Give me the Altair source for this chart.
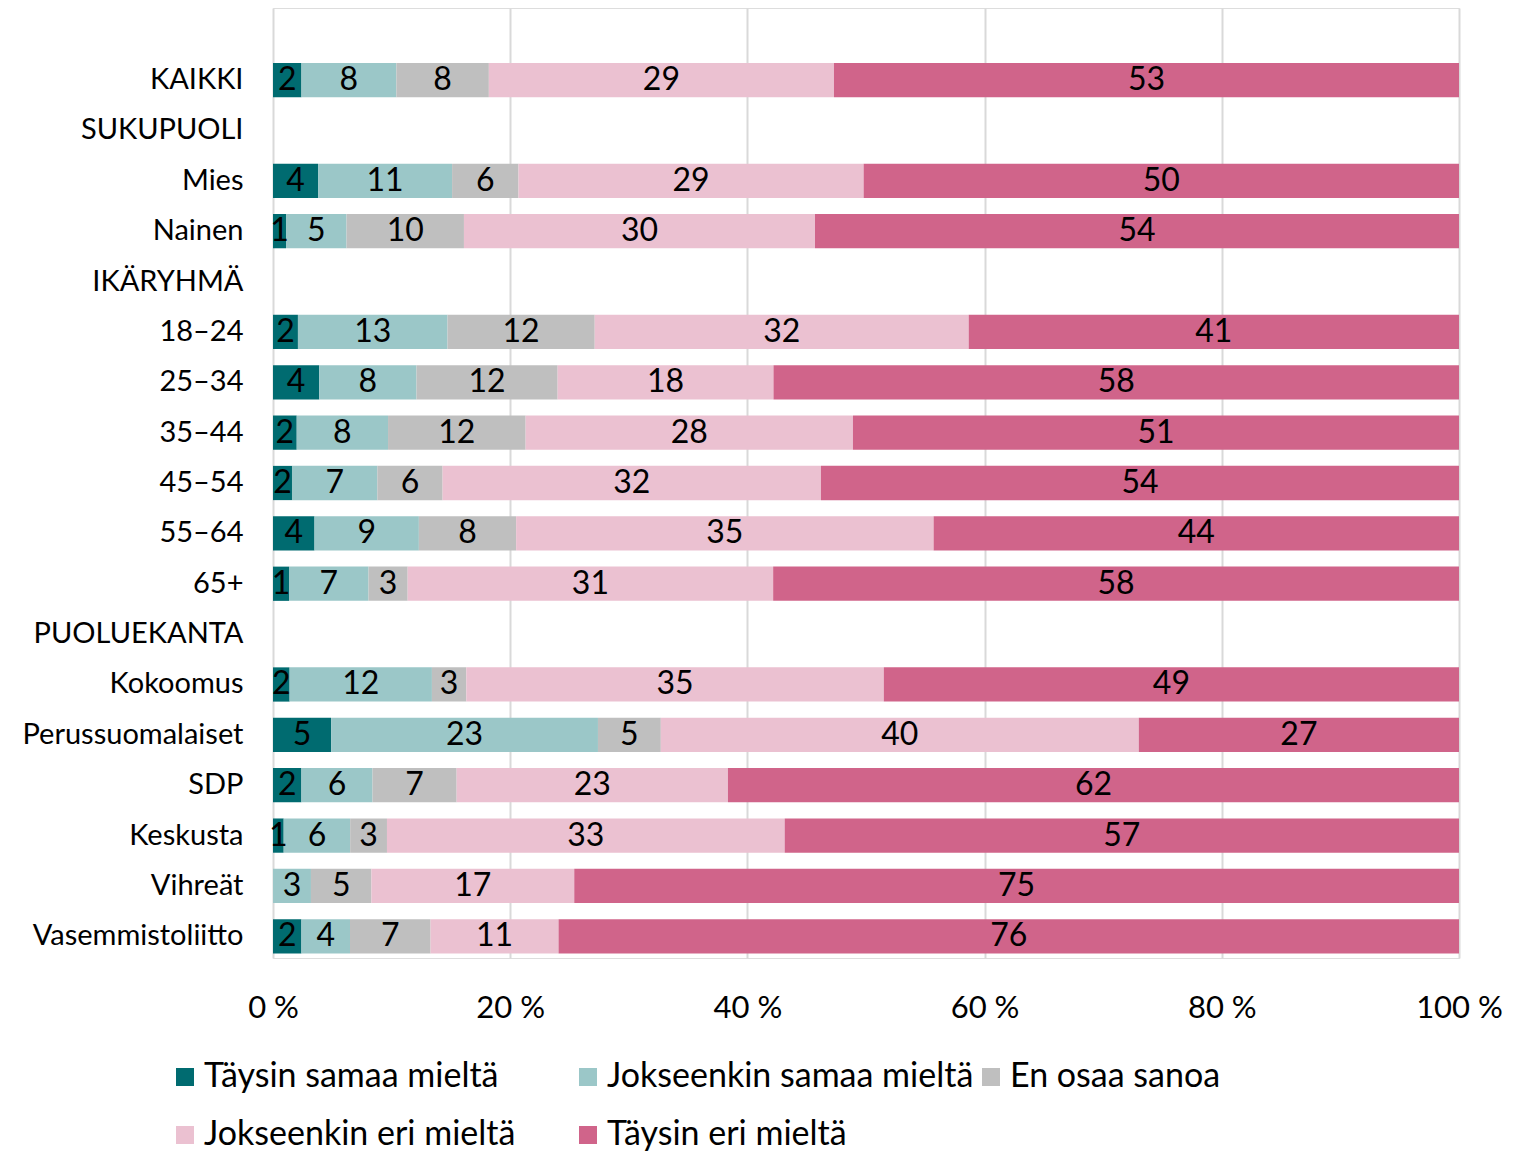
import altair as alt
import pandas as pd

rows = ["KAIKKI", "SUKUPUOLI", "Mies", "Nainen", "IKÄRYHMÄ", "18–24", "25–34", "35–44",
        "45–54", "55–64", "65+", "PUOLUEKANTA", "Kokoomus", "Perussuomalaiset", "SDP",
        "Keskusta", "Vihreät", "Vasemmistoliitto"]
data_rows = ["KAIKKI", "Mies", "Nainen", "18–24", "25–34", "35–44", "45–54", "55–64", "65+",
             "Kokoomus", "Perussuomalaiset", "SDP", "Keskusta", "Vihreät", "Vasemmistoliitto"]
categories = ["Täysin samaa mieltä", "Jokseenkin samaa mieltä", "En osaa sanoa",
              "Jokseenkin eri mieltä", "Täysin eri mieltä"]
colors = ["#006B70", "#9BC7C8", "#BFBFBF", "#EBC1D1", "#D0648A"]

# shares
taysin_samaa = [2.4, 3.8, 1.1, 2.1, 3.9, 2.0, 1.6, 3.5, 1.35, 1.4, 4.9, 2.4, 0.9, 0.0, 2.4]
jokseenkin_samaa = [8.0, 11.3, 5.1, 12.6, 8.2, 7.7, 7.2, 8.8, 6.7, 12.0, 22.5, 6.0, 5.6, 3.2, 4.1]
en_osaa = [7.8, 5.6, 9.9, 12.4, 11.9, 11.6, 5.5, 8.2, 3.3, 2.9, 5.3, 7.1, 3.1, 5.1, 6.8]
jokseenkin_eri = [29.1, 29.1, 29.6, 31.5, 18.2, 27.6, 31.9, 35.2, 30.8, 35.2, 40.3, 22.9, 33.5, 17.1, 10.8]
taysin_eri = [52.7, 50.2, 54.3, 41.3, 57.8, 51.1, 53.8, 44.3, 57.8, 48.5, 27.0, 61.7, 56.8, 74.6, 76.0]

# printed labels
lab_taysin_samaa = [2, 4, 1, 2, 4, 2, 2, 4, 1, 2, 5, 2, 1, None, 2]
lab_jokseenkin_samaa = [8, 11, 5, 13, 8, 8, 7, 9, 7, 12, 23, 6, 6, 3, 4]
lab_en_osaa = [8, 6, 10, 12, 12, 12, 6, 8, 3, 3, 5, 7, 3, 5, 7]
lab_jokseenkin_eri = [29, 29, 30, 32, 18, 28, 32, 35, 31, 35, 40, 23, 33, 17, 11]
lab_taysin_eri = [53, 50, 54, 41, 58, 51, 54, 44, 58, 49, 27, 62, 57, 75, 76]

series = [taysin_samaa, jokseenkin_samaa, en_osaa, jokseenkin_eri, taysin_eri]
labels = [lab_taysin_samaa, lab_jokseenkin_samaa, lab_en_osaa, lab_jokseenkin_eri, lab_taysin_eri]

recs = []
for ci, cat in enumerate(categories):
    for ri, r in enumerate(data_rows):
        lab = labels[ci][ri]
        recs.append({"row": r, "cat": cat, "order": ci, "value": series[ci][ri],
                     "label": "" if lab is None else str(lab)})
df = pd.DataFrame(recs)

FONT = "Lato"
domain_rows = [" "] + rows

base = alt.Chart(df).transform_joinaggregate(
    total="sum(value)", groupby=["row"]
).transform_calculate(
    pct="100 * datum.value / datum.total"
).transform_stack(
    stack="pct", groupby=["row"], sort=[alt.SortField("order")], as_=["x0", "x1"]
).transform_calculate(
    mid="(datum.x0 + datum.x1) / 2"
)

y_enc = alt.Y("row:N", scale=alt.Scale(domain=domain_rows, paddingInner=0.32, paddingOuter=0.09),
              sort=domain_rows,
              axis=alt.Axis(title=None, ticks=False, domain=False, labelFontSize=29,
                            labelFont=FONT, labelColor="black", labelPadding=30,
                            labelLimit=400))

bars = base.mark_bar().encode(
    x=alt.X("x0:Q", scale=alt.Scale(domain=[0, 100], nice=False),
            axis=alt.Axis(title=None, values=[0, 20, 40, 60, 80, 100],
                          labelExpr="datum.value + ' %'", grid=True, gridColor="#D9D9D9",
                          gridWidth=2, domain=False, ticks=False, labelFontSize=31,
                          labelFont=FONT, labelColor="black", labelPadding=35,
                          labelFlush=False)),
    x2="x1:Q",
    y=y_enc,
    color=alt.Color("cat:N", scale=alt.Scale(domain=categories, range=colors),
                    sort=categories,
                    legend=alt.Legend(title=None, orient="none", legendX=-105, legendY=1052,
                                      columns=3, direction="horizontal", gridAlign="all",
                                      symbolType="square", symbolSize=324,
                                      symbolStrokeWidth=0, labelFontSize=34,
                                      labelFont=FONT, labelColor="black", labelOffset=2,
                                      columnPadding=0, rowPadding=24, labelLimit=500)),
    order=alt.Order("order:Q"),
)

text = base.mark_text(fontSize=32, font=FONT, color="black", baseline="middle",
                      align="center").encode(
    x=alt.X("mid:Q"),
    y=alt.Y("row:N", sort=domain_rows),
    text="label:N",
)

chart = alt.layer(bars, text).properties(
    width=1186, height=950,
    padding={"left": 13, "top": 0, "right": 5, "bottom": 5}
).configure_view(stroke=None).configure(background="white")

chart.save("out.html", embed_options={"renderer": "svg", "actions": False})
